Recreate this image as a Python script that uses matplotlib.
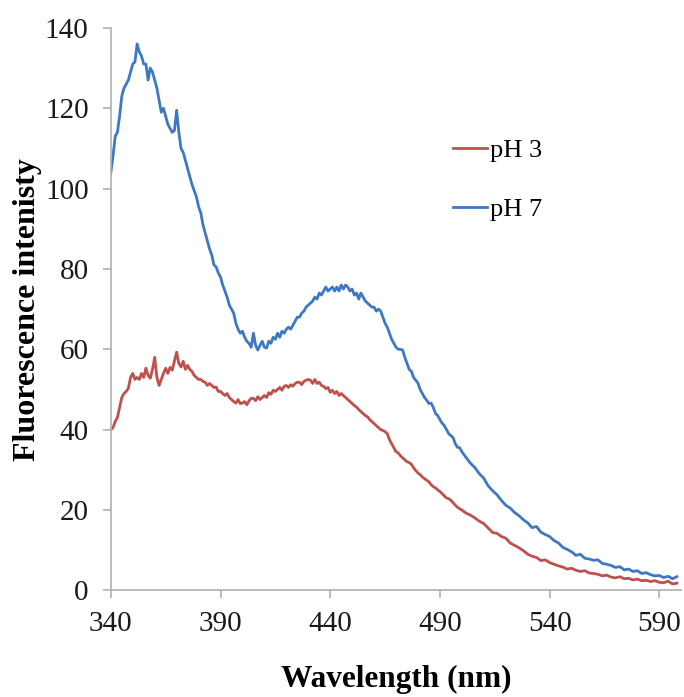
import matplotlib
matplotlib.use("Agg")
import matplotlib.pyplot as plt

# Espectros de fluorescencia
comprimento_onda = list(range(340, 501)) + list(range(502, 600, 2))

ph7 = [
    104, 108, 113, 114, 118, 123, 125, 126, 127, 129,
    131, 131.5, 136, 134, 133, 131, 131, 127, 130, 129,
    127, 125, 122, 119, 120, 118, 116, 115, 114, 114.5,
    119.5, 114, 110, 109, 107, 105, 103, 101, 99.5, 98,
    95.5, 94, 91, 89, 87, 85, 83.5, 81, 80.5, 79,
    78, 76, 74.5, 73, 71, 70, 69, 66.5, 65, 64,
    64.5, 63, 62, 61.5, 60.5, 64, 61, 59.8, 61, 62,
    60.5, 60.3, 62, 61.5, 63, 62.5, 64, 63, 64.5, 64,
    65, 65.5, 65, 66, 67, 68, 68, 69, 69.5, 70.5,
    71, 71.5, 72, 73, 72.5, 74, 73.5, 74.5, 75.5, 74.5,
    75, 75.5, 74.5, 75.5, 74.5, 76, 75, 76, 75.5, 74.5,
    75, 73.5, 74, 72.5, 74, 73, 72, 71.5, 71, 70.5,
    70.5, 69.5, 70, 69.5, 68, 66.5, 65.5, 64, 62.5, 61.5,
    60.5, 60, 60, 59.8, 58, 56.5, 55, 54.5, 53, 52.3,
    51.6, 50, 49, 48, 47.3, 46.5, 46.6, 45.5, 44, 43.5,
    42.5, 41.6, 41, 40, 39, 38.5, 38, 36.5, 35.6, 35.5,
    34.5,
    33, 31.6, 30.5, 29, 27.9, 26, 24.8, 23.8, 22.4, 21.2,
    20.5, 19.4, 18.6, 17.6, 16.8, 15.6, 15.9, 14.5, 13.9, 13.4,
    12.4, 11.8, 10.7, 10.2, 9.6, 8.7, 9.0, 8.0, 7.8, 7.5,
    7.6, 6.7, 6.5, 6.2, 5.7, 5.9, 5.1, 5.3, 4.7, 4.9,
    4.2, 4.4, 3.9, 3.6, 3.7, 3.2, 3.5, 2.9, 3.4,
]

ph3 = [
    40, 40.5, 42, 43, 45.5, 48, 49, 49.5, 50.3, 53,
    54, 52.5, 53, 52.5, 54, 53, 55.3, 53.5, 52.8, 55,
    58, 53, 51, 52.5, 54, 55.3, 54, 55.5, 54.8, 57,
    59.3, 56.5, 55.6, 57, 55, 56, 55, 54.5, 53.5, 53,
    52.5, 52.5, 52, 51.8, 51, 51.5, 51, 50.5, 50.6, 49.5,
    49.5, 49, 48.5, 49, 48, 47.5, 47, 46.6, 47.5, 46.5,
    46.6, 47, 46.2, 47.2, 47.8, 47.8, 47.2, 48.2, 47.5, 48,
    48.5, 48, 49.2, 48.8, 49.8, 49.5, 50, 50.5, 49.8, 50.8,
    51, 50.5, 51.2, 50.8, 51.5, 51.8, 51.8, 51.2, 52, 52.3,
    52.5, 52.3, 51.5, 52.5, 51.5, 51.8, 51, 50.8, 50.2, 50.5,
    49.3, 49.8, 49, 49.5, 48.5, 49, 48.5, 48, 47.5, 47,
    46.5, 46, 45.6, 45, 44.5, 44, 43.5, 43.2, 42.5, 42,
    41.5, 41, 40.5, 40, 39.8, 39.5, 39, 37.5, 36.5, 35.5,
    34.5, 34.2, 33.5, 33, 32.5, 32, 31.8, 31.4, 30.5, 29.8,
    29.2, 28.8, 28.2, 27.8, 27.4, 27, 26.3, 25.8, 25.5, 25,
    24.6, 24.1, 23.5, 23, 22.8, 22.4, 21.8, 21.2, 20.7, 20.3,
    20,
    19.2, 18.7, 18, 17.2, 16.6, 15.5, 14.4, 14.2, 13.4, 13.0,
    11.8, 11.2, 10.6, 9.9, 9.0, 8.5, 8.2, 7.4, 7.6, 6.9,
    6.5, 6.1, 5.8, 5.3, 5.5, 5.0, 4.7, 4.9, 4.3, 4.2,
    4.0, 3.6, 3.8, 3.3, 3.1, 3.4, 2.9, 3.0, 2.6, 2.8,
    2.4, 2.5, 2.2, 2.4, 2.0, 1.9, 2.3, 1.6, 1.8,
]

rotulos = ['pH 3', 'pH 7']
x_ticks = [340, 390, 440, 490, 540, 590]
y_ticks = [0, 20, 40, 60, 80, 100, 120, 140]

plt.rcParams['font.family'] = ['Liberation Serif', 'DejaVu Serif']

fig = plt.figure(figsize=(6.84, 6.97), dpi=100)
ax = fig.add_axes([0.162, 0.153, 0.834, 0.807])

ax.plot(comprimento_onda, ph3, color='#C0504D', lw=2.0, label=rotulos[0])
ax.plot(comprimento_onda, ph7, color='#3E78C2', lw=2.0, label=rotulos[1])

ax.set_xlim(340, 600)
ax.set_ylim(0, 140)
ax.set_xticks(x_ticks)
ax.set_yticks(y_ticks)

for lado in ['top', 'right']:
    ax.spines[lado].set_visible(False)
for lado in ['left', 'bottom']:
    ax.spines[lado].set_color('#B0B0B0')
    ax.spines[lado].set_linewidth(1.2)

ax.tick_params(axis='both', direction='out', length=6, width=1.2,
               color='#B0B0B0', labelsize=21, labelcolor='#1a1a1a')
ax.tick_params(axis='y', pad=10)
ax.tick_params(axis='x', pad=9)

ax.set_xlabel('Wavelength (nm)', fontsize=22.5, fontweight='bold', labelpad=20)
ax.set_ylabel('Fluorescence intenisty', fontsize=23, fontweight='bold', labelpad=2)

ax.legend(loc='upper left', bbox_to_anchor=(0.558, 0.845), frameon=False,
          fontsize=19, handlelength=1.3, handletextpad=0.1, labelspacing=1.35)

fig.savefig('out.png', dpi=100)
